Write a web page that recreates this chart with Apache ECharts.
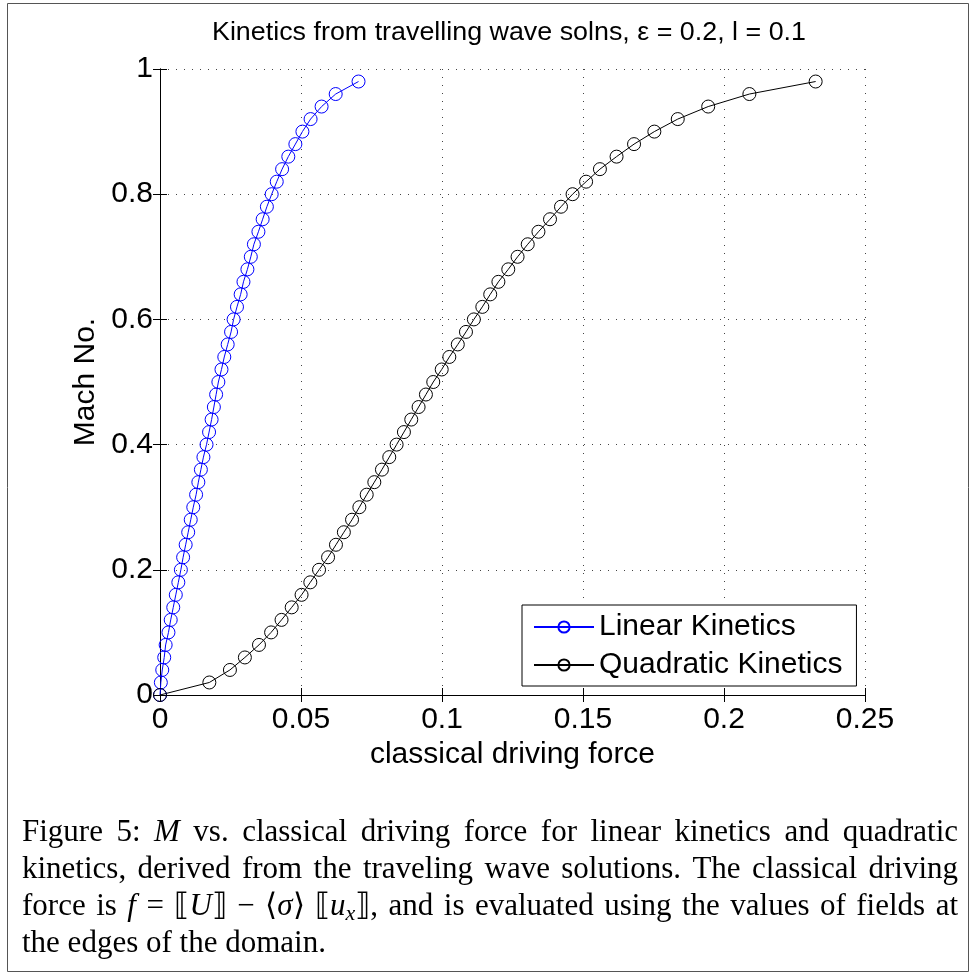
<!DOCTYPE html>
<html><head><meta charset="utf-8">
<script src="https://cdn.jsdelivr.net/npm/echarts@6/dist/echarts.min.js"></script>
<style>html,body{margin:0;padding:0;background:#fff}#c{width:976px;height:975px}</style>
</head><body><div id="c"></div>
<script>
// ---- data ----
const titleText = 'Kinetics from travelling wave solns, \u03b5 = 0.2, l = 0.1';
const xAxisName = 'classical driving force';
const yAxisName = 'Mach No.';
const seriesNames = ['Linear Kinetics', 'Quadratic Kinetics'];
const xTickLabels = ['0', '0.05', '0.1', '0.15', '0.2', '0.25'];
const yTickLabels = ['0', '0.2', '0.4', '0.6', '0.8', '1'];
const machNo = [0, 0.02, 0.04, 0.06, 0.08, 0.10, 0.12, 0.14, 0.16, 0.18,
  0.20, 0.22, 0.24, 0.26, 0.28, 0.30, 0.32, 0.34, 0.36, 0.38,
  0.40, 0.42, 0.44, 0.46, 0.48, 0.50, 0.52, 0.54, 0.56, 0.58,
  0.60, 0.62, 0.64, 0.66, 0.68, 0.70, 0.72, 0.74, 0.76, 0.78,
  0.80, 0.82, 0.84, 0.86, 0.88, 0.90, 0.92, 0.94, 0.96, 0.98];
const linearForce = [0, 0.0003, 0.0008, 0.0015, 0.0020, 0.0030, 0.0038, 0.0047, 0.0056, 0.0065,
  0.0074, 0.0082, 0.0091, 0.0100, 0.0109, 0.0118, 0.0128, 0.0136, 0.0145, 0.0154,
  0.0165, 0.0174, 0.0183, 0.0191, 0.0199, 0.0207, 0.0218, 0.0228, 0.0240, 0.0252,
  0.0261, 0.0273, 0.0286, 0.0296, 0.0310, 0.0322, 0.0333, 0.0349, 0.0364, 0.0379,
  0.0396, 0.0414, 0.0433, 0.0455, 0.0480, 0.0505, 0.0534, 0.0573, 0.0623, 0.0704];
const quadraticForce = [0, 0.0175, 0.0248, 0.0301, 0.0351, 0.0394, 0.0431, 0.0467, 0.0502, 0.0533,
  0.0564, 0.0596, 0.0624, 0.0652, 0.0681, 0.0707, 0.0733, 0.0760, 0.0787, 0.0813,
  0.0839, 0.0865, 0.0891, 0.0917, 0.0943, 0.0969, 0.0999, 0.1026, 0.1056, 0.1085,
  0.1113, 0.1143, 0.1171, 0.1200, 0.1235, 0.1268, 0.1304, 0.1342, 0.1383, 0.1422,
  0.1463, 0.1511, 0.1560, 0.1619, 0.1681, 0.1753, 0.1836, 0.1944, 0.2090, 0.2325];
const captionLines = [
  'Figure 5: {i:M} vs. classical driving force for linear kinetics and quadratic',
  'kinetics, derived from the traveling wave solutions. The classical driving',
  'force is {i:f} = \u27e6{i:U}\u27e7 \u2212 \u27e8{i:\u03c3}\u27e9 \u27e6{i:u}{s:x}\u27e7, and is evaluated using the values of fields at',
  'the edges of the domain.'
];

// ---- layout helpers ----
const SANS = '"Liberation Sans", Arial, Helvetica, sans-serif';
const SERIF = '"Liberation Serif", "Times New Roman", serif';
const mctx = document.createElement('canvas').getContext('2d');
function measure(text, font) { mctx.font = font; return mctx.measureText(text).width; }

const graphics = [];
// outer frame
graphics.push({type: 'rect', shape: {x: 7.5, y: 3.5, width: 961, height: 968},
  style: {fill: 'none', stroke: '#555', lineWidth: 1}, silent: true, z: -10});

// title (condensed like the original)
const titleSize = 26;
const titleW = measure(titleText, titleSize + 'px ' + SANS);
const titleScale = 594 / titleW;
graphics.push({type: 'text', x: 212, y: 33, scaleX: titleScale,
  style: {text: titleText, fontSize: titleSize, fontFamily: SANS, fill: '#000', align: 'left', verticalAlign: 'middle'}});

// caption (justified)
const capSize = 31, subSize = 22;
const capLeft = 22, capRight = 958;
const capMid = [833, 870, 907, 944];
function parseWord(w) {
  const out = [];
  const re = /\{([is]):([^}]*)\}|([^{]+)/g;
  let m;
  while ((m = re.exec(w))) {
    if (m[3] !== undefined) out.push({t: m[3], kind: 'n'});
    else out.push({t: m[2], kind: m[1]});
  }
  return out;
}
function segFont(kind) {
  if (kind === 'n') return capSize + 'px ' + SERIF;
  if (kind === 'i') return 'italic ' + capSize + 'px ' + SERIF;
  return 'italic ' + subSize + 'px ' + SERIF;
}
captionLines.forEach(function (line, li) {
  const words = line.split(' ').map(parseWord);
  const widths = words.map(function (segs) {
    return segs.reduce(function (a, s) { return a + measure(s.t, segFont(s.kind)); }, 0);
  });
  const total = widths.reduce(function (a, b) { return a + b; }, 0);
  const justify = li < captionLines.length - 1;
  const gap = justify ? (capRight - capLeft - total) / (words.length - 1) : measure(' ', segFont('n'));
  let x = capLeft;
  words.forEach(function (segs, wi) {
    let sx = x;
    segs.forEach(function (s) {
      const isSub = s.kind === 's';
      graphics.push({type: 'text', x: sx, y: capMid[li] + (isSub ? 7 : 0),
        style: {text: s.t, fontSize: isSub ? subSize : capSize, fontFamily: SERIF,
          fontStyle: s.kind === 'n' ? 'normal' : 'italic', fill: '#000', align: 'left', verticalAlign: 'middle'}});
      sx += measure(s.t, segFont(s.kind));
    });
    x += widths[wi] + gap;
  });
});

function pairs(xs, ys) { return xs.map(function (v, i) { return [v, ys[i]]; }); }
function fmt(labels, step) { return function (v) { const i = Math.round(v / step); return labels[i] !== undefined ? labels[i] : ''; }; }

const axisLineStyle = {show: true, lineStyle: {color: '#000', width: 1}};
const gridLine = {show: true, lineStyle: {color: '#444', width: 1, type: [1, 7]}};
const tick = {show: true, inside: true, length: 7, lineStyle: {color: '#000'}};

const chart = echarts.init(document.getElementById('c'), null, {renderer: 'canvas'});
chart.setOption({
  animation: false,
  backgroundColor: '#fff',
  grid: {left: 160, top: 69, right: 111, bottom: 280, containLabel: false},
  xAxis: [
    {type: 'value', position: 'bottom', min: 0, max: 0.25, interval: 0.05,
      axisLine: axisLineStyle, axisTick: tick, splitLine: gridLine,
      axisLabel: {fontSize: 30, color: '#000', fontFamily: SANS, margin: 10, formatter: fmt(xTickLabels, 0.05)},
      name: xAxisName, nameLocation: 'middle', nameGap: 38,
      nameTextStyle: {fontSize: 30, color: '#000', fontFamily: SANS}},
    {type: 'value', position: 'top', min: 0, max: 0.25, interval: 0.05,
      axisLine: axisLineStyle, axisTick: tick, splitLine: {show: false}, axisLabel: {show: false}}
  ],
  yAxis: [
    {type: 'value', position: 'left', min: 0, max: 1, interval: 0.2,
      axisLine: axisLineStyle, axisTick: tick, splitLine: gridLine,
      axisLabel: {fontSize: 30, color: '#000', fontFamily: SANS, margin: 7, formatter: fmt(yTickLabels, 0.2)},
      name: yAxisName, nameLocation: 'middle', nameGap: 57,
      nameTextStyle: {fontSize: 30, color: '#000', fontFamily: SANS}},
    {type: 'value', position: 'right', min: 0, max: 1, interval: 0.2,
      axisLine: axisLineStyle, axisTick: tick, splitLine: {show: false}, axisLabel: {show: false}}
  ],
  legend: {
    orient: 'vertical', left: 522, top: 605, padding: [7, 14, 6, 11],
    itemWidth: 60, itemHeight: 14, itemGap: 8, selectedMode: false,
    backgroundColor: '#fff', borderColor: '#000', borderWidth: 1,
    textStyle: {fontSize: 30, color: '#000', fontFamily: SANS, lineHeight: 30},
    data: seriesNames
  },
  series: [
    {name: seriesNames[0], type: 'line', data: pairs(linearForce, machNo),
      symbol: 'circle', symbolSize: 13, showAllSymbol: true,
      lineStyle: {color: '#0000ff', width: 1},
      itemStyle: {color: 'rgba(255,255,255,0)', borderColor: '#0000ff', borderWidth: 1}, z: 3},
    {name: seriesNames[1], type: 'line', data: pairs(quadraticForce, machNo),
      symbol: 'circle', symbolSize: 13, showAllSymbol: true,
      lineStyle: {color: '#000000', width: 1},
      itemStyle: {color: 'rgba(255,255,255,0)', borderColor: '#000000', borderWidth: 1}, z: 3}
  ],
  graphic: graphics
});
</script></body></html>
